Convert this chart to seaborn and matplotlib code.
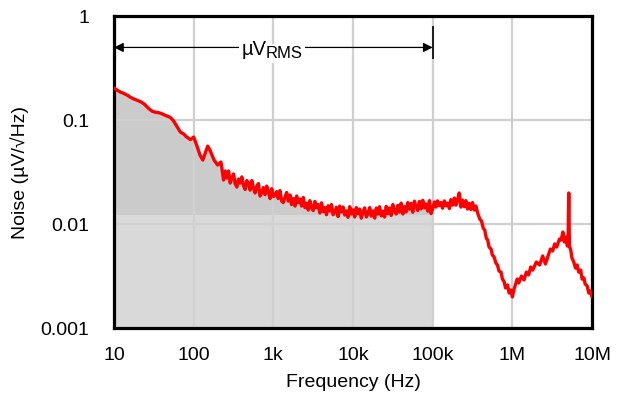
import pandas as pd
import matplotlib
matplotlib.use("Agg")
import matplotlib.pyplot as plt
import matplotlib.ticker as mticker
import seaborn as sns

# ---- data ----
freq_hz = [
    # 10 Hz - 220 Hz
    10, 11, 12, 13, 15, 16, 18, 20, 22, 24, 27, 30, 33, 36, 39, 43, 47, 51, 56, 62, 68, 75, 82, 91,
    100, 110, 120, 130, 150, 160, 180, 200, 220,
    # 237 Hz - 1 kHz
    237, 249, 261, 274, 287, 301, 316, 332, 348, 365, 383, 402, 422, 442, 464, 487,
    511, 536, 562, 590, 619, 649, 681, 715, 750, 787, 825, 866, 909, 953,
    # 1 kHz - 10 kHz
    1000, 1050, 1100, 1150, 1210, 1270, 1330, 1400, 1470, 1540, 1620, 1690, 1780, 1870, 1960, 2050,
    2150, 2260, 2370, 2490, 2610, 2740, 2870, 3010, 3160, 3320, 3480, 3650, 3830, 4020, 4220, 4420,
    4640, 4870, 5110, 5360, 5620, 5900, 6190, 6490, 6810, 7150, 7500, 7870, 8250, 8660, 9090, 9530,
    # 10 kHz - 100 kHz
    10000, 10500, 11000, 11500, 12100, 12700, 13300, 14000, 14700, 15400, 16200, 16900, 17800, 18700, 19600, 20500,
    21500, 22600, 23700, 24900, 26100, 27400, 28700, 30100, 31600, 33200, 34800, 36500, 38300, 40200, 42200, 44200,
    46400, 48700, 51100, 53600, 56200, 59000, 61900, 64900, 68100, 71500, 75000, 78700, 82500, 86600, 90900, 95300,
    # 100 kHz - 1 MHz
    100000, 105000, 110000, 115000, 121000, 127000, 133000, 140000, 147000, 154000, 162000, 169000, 178000, 187000,
    196000, 205000, 215000, 226000, 237000, 249000, 261000, 274000, 287000, 301000, 316000, 332000, 348000,
    370000, 390000, 410000, 430000, 450000, 470000, 490000, 510000, 540000, 560000, 590000, 620000, 650000,
    680000, 720000, 750000, 790000, 820000, 870000, 910000, 960000,
    # 1 MHz - 10 MHz
    1000000, 1050000, 1100000, 1150000, 1200000, 1300000, 1400000, 1500000, 1600000, 1700000, 1800000,
    2000000, 2200000, 2400000, 2600000, 2700000, 3000000, 3200000, 3400000, 3600000, 3900000, 4100000,
    4300000, 4500000, 4700000, 4900000, 5000000, 5100000, 5200000, 5400000, 5600000, 5900000, 6200000,
    6500000, 6800000, 7200000, 7500000, 7900000, 8200000, 8700000, 9100000, 9500000, 10000000,
]
noise_uv = [
    # 10 Hz - 220 Hz
    0.203, 0.194, 0.186, 0.182, 0.172, 0.166, 0.159, 0.154, 0.149, 0.1425, 0.130, 0.122, 0.119, 0.118, 0.116, 0.112,
    0.109, 0.106, 0.098, 0.086, 0.0767, 0.0734, 0.0686, 0.065,
    0.0686, 0.0562, 0.0461, 0.0413, 0.0562, 0.0515, 0.0413, 0.0370, 0.0395,
    # 237 Hz - 1 kHz
    0.0265, 0.0324, 0.0277, 0.0324, 0.0248, 0.0277, 0.0303, 0.0243, 0.0227, 0.0271, 0.0248, 0.0284, 0.0235, 0.0215,
    0.0262, 0.0248, 0.0212, 0.0262, 0.0222, 0.0199, 0.0232, 0.0245, 0.0186, 0.0201, 0.0224, 0.0192, 0.0232, 0.0205,
    0.0176, 0.0219,
    # 1 kHz - 10 kHz
    0.0184, 0.0190, 0.0205, 0.0176, 0.0210, 0.01664, 0.0161, 0.0182, 0.0201, 0.01664, 0.0190, 0.0154, 0.0176, 0.0149,
    0.0186, 0.0161, 0.0174, 0.0149, 0.0180, 0.0144, 0.0159, 0.01364, 0.0168, 0.0144, 0.0135, 0.0165, 0.0144, 0.0154,
    0.01276, 0.0160, 0.0132, 0.0144, 0.0123, 0.0150, 0.01334, 0.0154, 0.0123, 0.0129, 0.0145, 0.0118, 0.0149, 0.0131,
    0.0146, 0.0122, 0.0134, 0.0116, 0.0147, 0.01248,
    # 10 kHz - 100 kHz
    0.0137, 0.0117, 0.0144, 0.0126, 0.01394, 0.0114, 0.0131, 0.0143, 0.0117, 0.0126, 0.0144, 0.01194, 0.0134, 0.0114,
    0.01426, 0.0125, 0.0147, 0.0120, 0.0133, 0.01168, 0.0148, 0.0126, 0.0143, 0.0121, 0.0154, 0.0134, 0.0125, 0.0151,
    0.01305, 0.0159, 0.0125, 0.0147, 0.0131, 0.0161, 0.0139, 0.0158, 0.0130, 0.0166, 0.0146, 0.0135, 0.0165, 0.0140,
    0.0169, 0.0143, 0.0156, 0.0133, 0.0168, 0.0126,
    # 100 kHz - 1 MHz
    0.0141, 0.0163, 0.01456, 0.0167, 0.0150, 0.0161, 0.0142, 0.0167, 0.0150, 0.0159, 0.0141, 0.0172, 0.0152, 0.0178,
    0.0152, 0.0170, 0.0199, 0.01456, 0.0170, 0.0147, 0.0168, 0.01394, 0.0158, 0.0138, 0.0161, 0.01364, 0.0149,
    0.01248, 0.01117, 0.01069, 0.00916, 0.00875, 0.00733, 0.00702, 0.00601, 0.00575, 0.00504, 0.00482, 0.00422, 0.00404,
    0.00353, 0.00345, 0.00296, 0.00277, 0.00243, 0.00259, 0.00217, 0.00232,
    # 1 MHz - 10 MHz
    0.00199, 0.00237, 0.00265, 0.00296, 0.00271, 0.00316, 0.0029, 0.00345, 0.00324, 0.00386, 0.00361,
    0.00431, 0.00404, 0.00493, 0.00413, 0.00451, 0.00575, 0.00550, 0.00643, 0.00601, 0.00718, 0.00702,
    0.00838, 0.00672, 0.00750, 0.00614, 0.00657, 0.0199, 0.00614, 0.00562, 0.00471, 0.00431, 0.00377,
    0.00404, 0.00345, 0.00361, 0.00296, 0.00303, 0.00265, 0.00253, 0.00217, 0.00227, 0.00199,
]

x_ticks = [10, 100, 1e3, 1e4, 1e5, 1e6, 1e7]
x_tick_labels = ["10", "100", "1k", "10k", "100k", "1M", "10M"]
y_ticks = [0.001, 0.01, 0.1, 1]
y_tick_labels = ["0.001", "0.01", "0.1", "1"]

band_start_hz = 10
band_end_hz = 1e5
band_floor = 0.0122
arrow_level = 0.5
label_freq = 1000

df = pd.DataFrame({"freq": freq_hz, "noise": noise_uv})

sns.set_theme(style="whitegrid")
plt.rcParams["font.family"] = ["Liberation Sans", "DejaVu Sans"]

fig = plt.figure(figsize=(6.18, 3.94), dpi=100)
ax = fig.add_axes([0.1845, 0.1675, 0.7735, 0.7915])
ax.set_xscale("log")
ax.set_yscale("log")
ax.set_xlim(10, 1e7)
ax.set_ylim(0.001, 1)
ax.set_axisbelow("line")
ax.grid(True, which="major", color="#d0d0d0", linewidth=1.6)
ax.grid(False, which="minor")
ax.set_facecolor("white")

# shaded integration band
band = df[(df.freq >= band_start_hz) & (df.freq <= band_end_hz)]
ax.fill_between(band.freq, band_floor, band.noise, where=band.noise >= band_floor,
                interpolate=True, color="#cbcbcb", linewidth=0, zorder=1)
ax.fill_between([band_start_hz, band_end_hz], 0.001, band_floor, color="#d9d9d9",
                linewidth=0, zorder=1)

sns.lineplot(data=df, x="freq", y="noise", ax=ax, color="#ff0000", linewidth=2.4,
             estimator=None, sort=False, zorder=3)

ax.set_xticks(x_ticks)
ax.set_xticklabels(x_tick_labels)
ax.set_yticks(y_ticks)
ax.set_yticklabels(y_tick_labels)
ax.xaxis.set_minor_locator(mticker.NullLocator())
ax.yaxis.set_minor_locator(mticker.NullLocator())
ax.tick_params(axis="both", length=0, labelsize=14, colors="black")
ax.tick_params(axis="x", pad=14)
ax.tick_params(axis="y", pad=18)
ax.set_xlabel("Frequency (Hz)", fontsize=14, color="black", labelpad=7)
ax.set_ylabel("Noise (µV/√Hz)", fontsize=14, color="black", labelpad=8)

for s in ax.spines.values():
    s.set_color("black")
    s.set_linewidth(2.3)
    s.set_visible(True)

# arrow annotation
ax.annotate("", xy=(band_start_hz, arrow_level), xytext=(band_end_hz, arrow_level),
            arrowprops=dict(arrowstyle="<|-|>", color="black", lw=0.9,
                            mutation_scale=14, shrinkA=0, shrinkB=0), zorder=5)
ax.vlines(band_end_hz, 0.39, 0.8, color="black", lw=1.2, zorder=5)
ax.vlines(band_start_hz * 1.012, 0.39, 1, color="black", lw=2.2, zorder=5)
ax.annotate("µV", xy=(label_freq, arrow_level), xytext=(-5, -1.5), textcoords="offset points",
            ha="right", va="center", fontsize=14.5, color="black", zorder=6,
            bbox=dict(facecolor="white", edgecolor="none", pad=1.5))
ax.annotate("RMS", xy=(label_freq, arrow_level), xytext=(-5.5, -4.5), textcoords="offset points",
            ha="left", va="center", fontsize=12, color="black", zorder=6,
            bbox=dict(facecolor="white", edgecolor="none", pad=1.5))

fig.savefig("out.png", dpi=100)
